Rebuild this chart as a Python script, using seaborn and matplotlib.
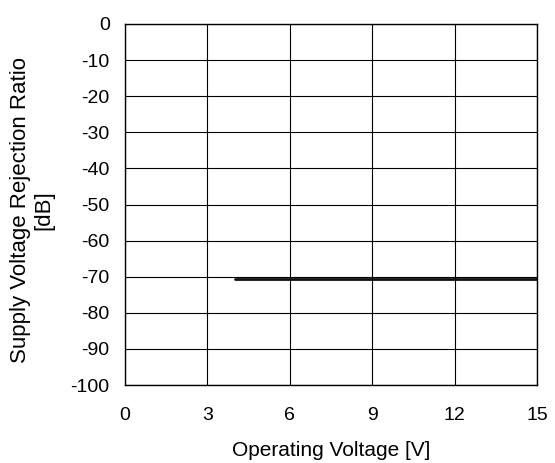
import matplotlib
matplotlib.use("Agg")
import matplotlib.pyplot as plt
import seaborn as sns
import pandas as pd

# Measured supply voltage rejection ratio over operating voltage
operating_voltage = [4, 6, 9, 12, 15]
svrr_db = [-70.5, -70.5, -70.5, -70.5, -70.5]

x_ticks = [0, 3, 6, 9, 12, 15]
y_ticks = [0, -10, -20, -30, -40, -50, -60, -70, -80, -90, -100]

sns.set_theme(style="white")
plt.rcParams["font.family"] = ["Liberation Sans", "DejaVu Sans"]

fig = plt.figure(figsize=(5.55, 4.63), dpi=100)
ax = fig.add_axes([125 / 555, 1 - 385 / 463, 412 / 555, 361 / 463])

df = pd.DataFrame({"V": operating_voltage, "SVRR": svrr_db})
sns.lineplot(data=df, x="V", y="SVRR", ax=ax, color="#111111", linewidth=2.0)

ax.set_xlim(0, 15)
ax.set_ylim(-100, 0)
ax.set_xticks(x_ticks)
ax.set_yticks(y_ticks)
ax.set_xticklabels([str(t) for t in x_ticks])
ax.set_yticklabels([str(t) for t in y_ticks])
ax.grid(True, color="black", linewidth=0.8)
ax.set_axisbelow(True)
for s in ax.spines.values():
    s.set_color("black")
    s.set_linewidth(1.0)
    s.set_visible(True)
ax.tick_params(axis="both", labelsize=14, colors="black", length=0)
ax.tick_params(axis="y", pad=11)
ax.tick_params(axis="x", pad=16)

ax.set_xlabel("Operating Voltage [V]", fontsize=15, color="black", labelpad=12)
ax.set_ylabel("Supply Voltage Rejection Ratio\n[dB]", fontsize=16, color="black",
              linespacing=1.15)
ax.yaxis.set_label_coords(-0.171, 0.485)

fig.savefig("out.png", dpi=100, facecolor="white")
